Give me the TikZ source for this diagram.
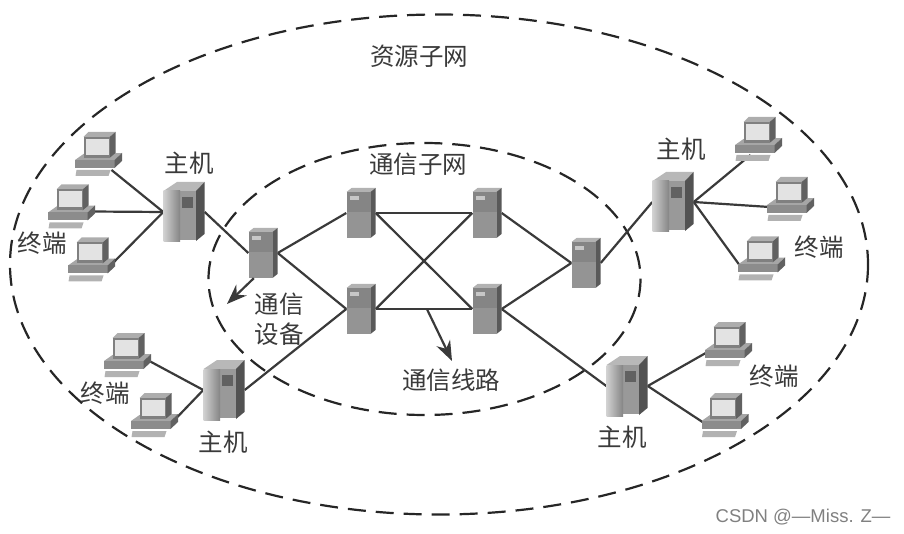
\documentclass[tikz,border=0pt]{standalone}
\usepackage{fontspec}
\newfontfamily\cjk{Noto Sans CJK SC}
\setsansfont{Liberation Sans}
\usetikzlibrary{arrows.meta,backgrounds}
\definecolor{inkgray}{HTML}{3a3a3a}
\tikzset{
  hitbox/.style={inner sep=0pt,minimum width=#1},
  lbl/.style={font=\cjk\fontsize{24.5}{30}\selectfont,text=inkgray,align=center},
  zone/.style={draw=black!85,line width=2.2pt,dash pattern=on 18pt off 10pt},
  wire/.style={draw=inkgray,line width=2.2pt},
  pointer/.style={wire,-{Stealth[length=20pt,width=15pt]}},
  pics/router/.style={code={
    \node[hitbox=29pt,minimum height=50pt] (-box) at (0,0) {};
    \fill[black!30] (-14.5,-21)--(-9.5,-25)--(14.5,-25)--(9.5,-21)--cycle;
    \fill[black!65] (9.5,-21)--(14.5,-25)--(14.5,21)--(9.5,25)--cycle;
    \fill[black!48] (-14.5,-21) rectangle (9.5,25);
    \fill[black!42] (-14.5,-1) rectangle (9.5,25);
    \fill[black!22] (-11,-17) rectangle (-2,-13);
  }},
  pics/host/.style={code={
    \node[hitbox=41pt,minimum height=60pt] (-box) at (0,0) {};
    \fill[black!28] (-20.5,-21)--(-7,-30)--(20.5,-30)--(12,-21)--cycle;
    \fill[black!68] (12,-21)--(20.5,-30)--(20.5,22)--(12,29)--cycle;
    \fill[black!40] (-4,-21) rectangle (12,28);
    \shade[left color=black!18,right color=black!48] (-20.5,-21) rectangle (-4,30);
    \fill[black!62] (-2,-15) rectangle (9,-4);
  }},
  pics/terminal/.style={code={
    \node[hitbox=47pt,minimum height=44pt] (-box) at (0,0) {};
    \coordinate (-r) at (20,5);
    \coordinate (-l) at (-21,8);
    \coordinate (-dr) at (13,16);
    \coordinate (-dl) at (-8,16);
    \fill[black!35] (-23.5,6)--(-15,0)--(23.5,-1)--(16,6)--cycle;
    \fill[black!45] (-23.5,6) rectangle (16,14);
    \fill[black!62] (16,6)--(23.5,-1)--(23.5,7)--(16,14)--cycle;
    \fill[black!32] (-15,-17)--(-10,-22)--(17,-22)--(11,-17)--cycle;
    \fill[black!62] (11,-17)--(17,-22)--(17,-1)--(11,4)--cycle;
    \fill[black!50] (-15,-17) rectangle (11,4);
    \fill[black!11] (-13,-15) rectangle (10,1);
    \fill[black!30] (-22,16)--(12,16)--(10,22)--(-23,22)--cycle;
  }}
}
\begin{document}
\begin{tikzpicture}[x=1pt,y=-1pt]
  \useasboundingbox (0,0) rectangle (904,534);

  \pic (h1) at (184,212) {host};
  \pic (h2) at (224,390) {host};
  \pic (h3) at (673,202) {host};
  \pic (h4) at (627,386) {host};

  \pic (r1) at (263,253) {router};
  \pic (r2) at (361,213) {router};
  \pic (r3) at (487,213) {router};
  \pic (r4) at (361,309) {router};
  \pic (r5) at (487,309) {router};
  \pic (r6) at (586,263) {router};

  \pic (t1) at (98.5,154) {terminal};
  \pic (t2) at (71.5,206.5) {terminal};
  \pic (t3) at (91.5,259.5) {terminal};
  \pic (t4) at (127.5,355) {terminal};
  \pic (t5) at (154.5,415) {terminal};
  \pic (t6) at (758.5,139) {terminal};
  \pic (t7) at (790.5,199) {terminal};
  \pic (t8) at (761.5,258.5) {terminal};
  \pic (t9) at (728.5,344) {terminal};
  \pic (t10) at (725,415) {terminal};

  \begin{scope}[on background layer]
    \draw[zone] (439,264.5) ellipse (429 and 250);
    \draw[zone] (424.5,279) ellipse (216 and 136);

    \draw[wire] (h1-box.west)--(t1-dr);
    \draw[wire] (h1-box.west)--(t2-r);
    \draw[wire] (h1-box.west)--(t3-r);
    \draw[wire] (h2-box.west)--(t4-r);
    \draw[wire] (h2-box.west)--(t5-r);
    \draw[wire] (h3-box.east)--(t6-dl);
    \draw[wire] (h3-box.east)--(t7-l);
    \draw[wire] (h3-box.east)--(t8-l);
    \draw[wire] (h4-box.east)--(t9-l);
    \draw[wire] (h4-box.east)--(t10-l);

    \draw[wire] (h1-box.east)--(r1-box.west);
    \draw[wire] (h2-box.east)--(r4-box.west);
    \draw[wire] (r6-box.east)--(h3-box.west);
    \draw[wire] (r5-box.east)--(h4-box.west);

    \draw[wire] (r1-box.east)--(r2-box.west);
    \draw[wire] (r1-box.east)--(r4-box.west);
    \draw[wire] (r2-box.east)--(r3-box.west);
    \draw[wire] (r2-box.east)--(r5-box.west);
    \draw[wire] (r4-box.east)--(r3-box.west);
    \draw[wire] (r4-box.east) -- coordinate[pos=0.53] (m1) (r5-box.west);
    \draw[wire] (r3-box.east)--(r6-box.west);
    \draw[wire] (r5-box.east)--(r6-box.west);
  \end{scope}

  \coordinate (a1) at (227,304);
  \coordinate (a2) at (452,361);
  \draw[pointer] (r1-box.-110)--(a1);
  \draw[pointer] (m1)--(a2);

  \node[lbl] (zy) at (419,56) {资源子网};
  \node[lbl] (tx) at (418,164) {通信子网};
  \node[lbl] (zj1) at (189,163) {主机};
  \node[lbl] (zj2) at (223,442) {主机};
  \node[lbl] (zj3) at (681,149) {主机};
  \node[lbl] (zj4) at (622,437) {主机};
  \node[lbl] (zd1) at (42,243) {终端};
  \node[lbl] (zd2) at (105,393) {终端};
  \node[lbl] (zd3) at (819,247) {终端};
  \node[lbl] (zd4) at (774,376) {终端};
  \node[lbl] (sb) at (279,319) {通信\\设备};
  \node[lbl] (xl) at (451,380) {通信线路};
  \node[font=\sffamily\fontsize{18.5}{20}\selectfont,text=black!50] (wm) at (803,517) {CSDN @—Miss. Z—};
\end{tikzpicture}
\end{document}
